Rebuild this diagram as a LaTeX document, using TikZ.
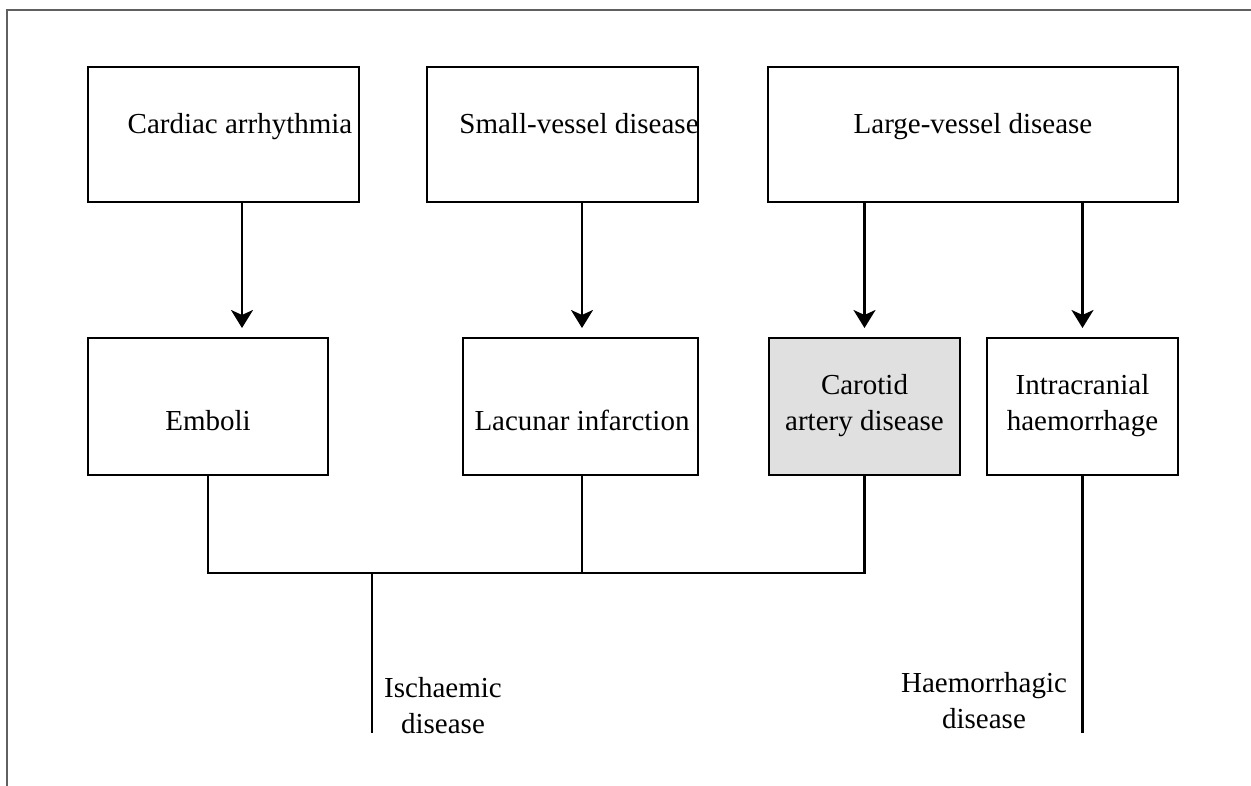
\documentclass[tikz,border=0pt]{standalone}
\usepackage{fontspec}
\setmainfont{Liberation Serif}
\usetikzlibrary{arrows.meta}
\definecolor{framegray}{HTML}{606060}
\definecolor{boxfill}{HTML}{E0E0E0}
\tikzset{
  box/.style={draw=black, line width=2.6pt, rectangle, inner sep=0pt, outer sep=0pt},
  lbl/.style={inner sep=0pt, outer sep=0pt, align=center, font=\fontsize{29}{36}\selectfont},
  conn/.style={draw=black, line width=2.4pt},
  arr/.style={conn, -{Stealth[length=18pt, width=22pt, inset=5pt]}, shorten >=10pt},
}
\begin{document}
\begin{tikzpicture}[x=1pt, y=-1pt]
\useasboundingbox (0,0) rectangle (1251,786);
% frame
\draw[framegray, line width=2pt] (7,786) -- (7,10) -- (1251,10);

% top row boxes
\node[box, minimum width=271pt, minimum height=135pt] (ca) at (223.5,134.5) {};
\node[box, minimum width=271pt, minimum height=135pt] (sv) at (562.5,134.5) {};
\node[box, minimum width=410pt, minimum height=135pt] (lv) at (973,134.5) {};
\node[lbl, anchor=base] (cat) at (240,134) {Cardiac arrhythmia};
\node[lbl, anchor=base] (svt) at (579,134) {Small-vessel disease};
\node[lbl, anchor=base] (lvt) at (973,134) {Large-vessel disease};
\coordinate (a1) at (242,0);
\coordinate (a2) at (582,0);

% second row boxes
\node[box, minimum width=240pt, minimum height=137pt] (em) at (208,406.5) {};
\node[box, minimum width=235pt, minimum height=137pt] (la) at (580.5,406.5) {};
\node[box, fill=boxfill, minimum width=191pt, minimum height=137pt] (cd) at (864.5,406.5) {};
\node[box, minimum width=191pt, minimum height=137pt] (ih) at (1082.5,406.5) {};
\node[lbl, anchor=base] (emt) at (208,430) {Emboli};
\node[lbl, anchor=base] (lat) at (582,430) {Lacunar infarction};
\node[lbl, anchor=north] (cdt) at (864.5,374) {Carotid\\artery disease};
\node[lbl, anchor=north] (iht) at (1082.5,374) {Intracranial\\haemorrhage};

% arrows
\draw[arr] (ca.south -| a1) -- (em.north -| a1);
\draw[arr] (sv.south -| a2) -- (la.north -| a2);
\draw[arr] (lv.south -| cd) -- (cd.north);
\draw[arr] (lv.south -| ih) -- (ih.north);

% lower connectors
\coordinate (bus) at (372,573);
\coordinate (iend) at (372,733);
\coordinate (hend) at (1082,733);
\draw[conn] (em.south) |- (cd.south |- bus) -- (cd.south);
\draw[conn] (la.south -| a2) -- (bus -| a2);
\draw[conn] (bus) -- (iend);
\draw[conn] (ih.south) -- (ih.south |- hend);

% outcome labels
\node[lbl, anchor=north] (isch) at (443,677) {Ischaemic\\disease};
\node[lbl, anchor=north] (haem) at (984,672) {Haemorrhagic\\disease};
\end{tikzpicture}
\end{document}
